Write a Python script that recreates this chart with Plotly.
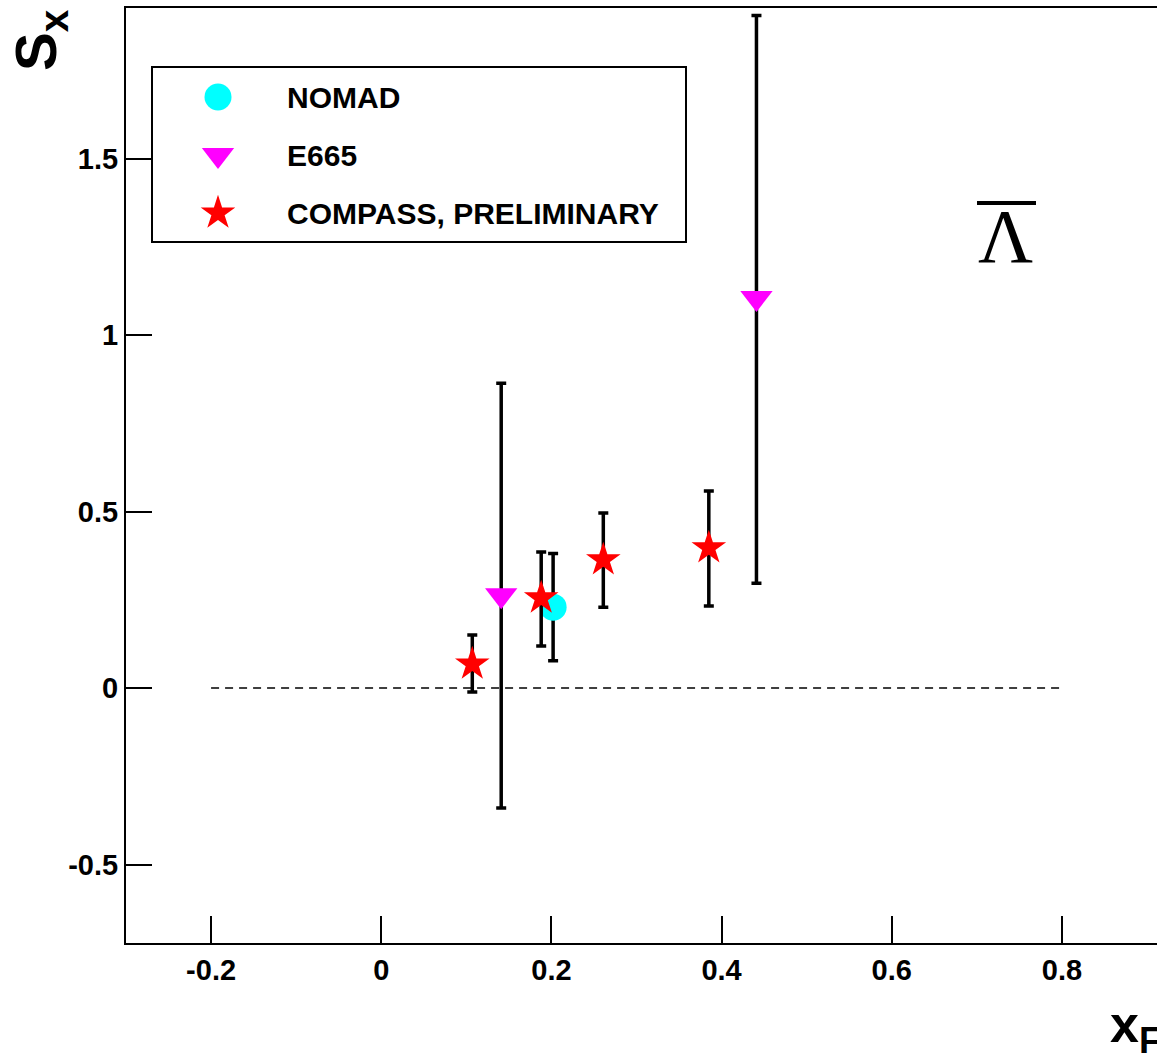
import plotly.graph_objects as go

# ---- data ----
nomad_x = [0.202]
nomad_y = [0.229]
nomad_err = [0.152]

e665_x = [0.141, 0.441]
e665_y = [0.263, 1.105]
e665_err_plus = [0.600, 0.800]
e665_err_minus = [0.603, 0.808]

compass_x = [0.107, 0.188, 0.261, 0.385]
compass_y = [0.068, 0.255, 0.363, 0.397]
compass_err_plus = [0.082, 0.130, 0.133, 0.161]
compass_err_minus = [0.079, 0.136, 0.134, 0.165]

zero_line_x = [-0.2, 0.8]
zero_line_y = [0.0, 0.0]

series_names = ["NOMAD", "E665", "COMPASS, PRELIMINARY"]

x_tickvals = [-0.2, 0, 0.2, 0.4, 0.6, 0.8]
x_ticktext = ["-0.2", "0", "0.2", "0.4", "0.6", "0.8"]
y_tickvals = [-0.5, 0, 0.5, 1, 1.5]
y_ticktext = ["-0.5", "0", "0.5", "1", "1.5"]

# ---- layout helpers ----
W, H = 1157, 1057
ML, MR, MT, MB = 126, 0, 8, 114
PW, PH = W - ML - MR, H - MT - MB


def px(xpix):
    return (xpix - ML) / PW


def py(ypix):
    return (H - MB - ypix) / PH


FONT = "Liberation Sans, Arial, Helvetica, sans-serif"

styles = [
    dict(symbol="circle", size=27, color="#00ffff"),
    dict(symbol="triangle-down", size=28, color="#ff00ff"),
    dict(symbol="star", size=26, color="#ff0000"),
]

fig = go.Figure()

fig.add_trace(go.Scatter(
    x=zero_line_x, y=zero_line_y, mode="lines",
    line=dict(color="black", width=1.6, dash="8px,6px"),
    showlegend=False, hoverinfo="skip"))

err_style = dict(color="black", thickness=3.5, width=5)

fig.add_trace(go.Scatter(
    x=nomad_x, y=nomad_y, mode="markers", name=series_names[0],
    marker=dict(styles[0], line=dict(width=0)),
    error_y=dict(type="data", array=nomad_err, visible=True, **err_style)))

fig.add_trace(go.Scatter(
    x=e665_x, y=e665_y, mode="markers", name=series_names[1],
    marker=dict(styles[1], line=dict(width=0)),
    error_y=dict(type="data", array=e665_err_plus, arrayminus=e665_err_minus,
                 symmetric=False, visible=True, **err_style)))

fig.add_trace(go.Scatter(
    x=compass_x, y=compass_y, mode="markers", name=series_names[2],
    marker=dict(styles[2], line=dict(width=0)),
    error_y=dict(type="data", array=compass_err_plus, arrayminus=compass_err_minus,
                 symmetric=False, visible=True, **err_style)))

# ---- legend (drawn as a box with symbols on an overlay paper-like axis) ----
leg_left, leg_top, leg_right, leg_bottom = 152, 67, 686, 242
leg_sym_x = 218
leg_text_x = 285
leg_rows = [97, 155, 213]

fig.add_shape(
    type="rect", xref="paper", yref="paper", layer="below",
    x0=px(leg_left), x1=px(leg_right), y0=py(leg_bottom), y1=py(leg_top),
    line=dict(color="black", width=2), fillcolor="white")

for name, st, row in zip(series_names, styles, leg_rows):
    fig.add_trace(go.Scatter(
        x=[px(leg_sym_x)], y=[py(row)], mode="markers",
        xaxis="x2", yaxis="y2", cliponaxis=False,
        marker=dict(st, line=dict(width=0)),
        showlegend=False, hoverinfo="skip"))
    fig.add_annotation(
        xref="paper", yref="paper", x=px(leg_text_x), y=py(row),
        text=name, showarrow=False, xanchor="left", yanchor="middle",
        font=dict(family=FONT, size=30, color="black", weight="bold"))

x_range = [-0.3, 0.8 + (W - 1062) / 850.0]
y_range = [-(943 - 688) / 353.0, (688 - 8) / 353.0]

tickfont = dict(family=FONT, size=29, color="black", weight="bold")

fig.update_layout(
    width=W, height=H,
    margin=dict(l=ML, r=MR, t=MT, b=MB, pad=0),
    paper_bgcolor="white", plot_bgcolor="white",
    font=dict(family=FONT, color="black"),
    showlegend=False,
    xaxis=dict(
        range=x_range, showgrid=False, zeroline=False,
        showline=True, linecolor="black", linewidth=2, mirror=True,
        ticks="inside", ticklen=27, tickwidth=2, tickcolor="black",
        tickvals=x_tickvals, ticktext=x_ticktext, tickfont=tickfont,
    ),
    yaxis=dict(
        range=y_range, showgrid=False, zeroline=False,
        showline=True, linecolor="black", linewidth=2, mirror=False,
        ticks="inside", ticklen=26, tickwidth=2, tickcolor="black",
        tickvals=y_tickvals, ticktext=y_ticktext, tickfont=tickfont,
    ),
    xaxis2=dict(overlaying="x", range=[0, 1], visible=False, anchor="y2",
                fixedrange=True),
    yaxis2=dict(overlaying="y", range=[0, 1], visible=False, anchor="x2",
                fixedrange=True),
)

fig.add_annotation(
    xref="paper", yref="paper", x=px(40), y=py(40),
    text="S<sub>x</sub>", showarrow=False, textangle=-90,
    font=dict(family=FONT, size=58, color="black", weight="bold"),
    xanchor="center", yanchor="middle")

fig.add_annotation(
    xref="paper", yref="paper", x=px(1108), y=py(1028),
    text="x<sub>F</sub>", showarrow=False,
    font=dict(family=FONT, size=52, color="black", weight="bold"),
    xanchor="left", yanchor="middle")

fig.add_annotation(
    xref="paper", yref="paper", x=px(1005), y=py(236),
    text="Λ", showarrow=False,
    font=dict(family="Liberation Serif, Times New Roman, serif", size=76, color="black"),
    xanchor="center", yanchor="middle")

fig.add_shape(
    type="line", xref="paper", yref="paper",
    x0=px(977), x1=px(1036), y0=py(203), y1=py(203),
    line=dict(color="black", width=4))

fig.write_html("out.html")
